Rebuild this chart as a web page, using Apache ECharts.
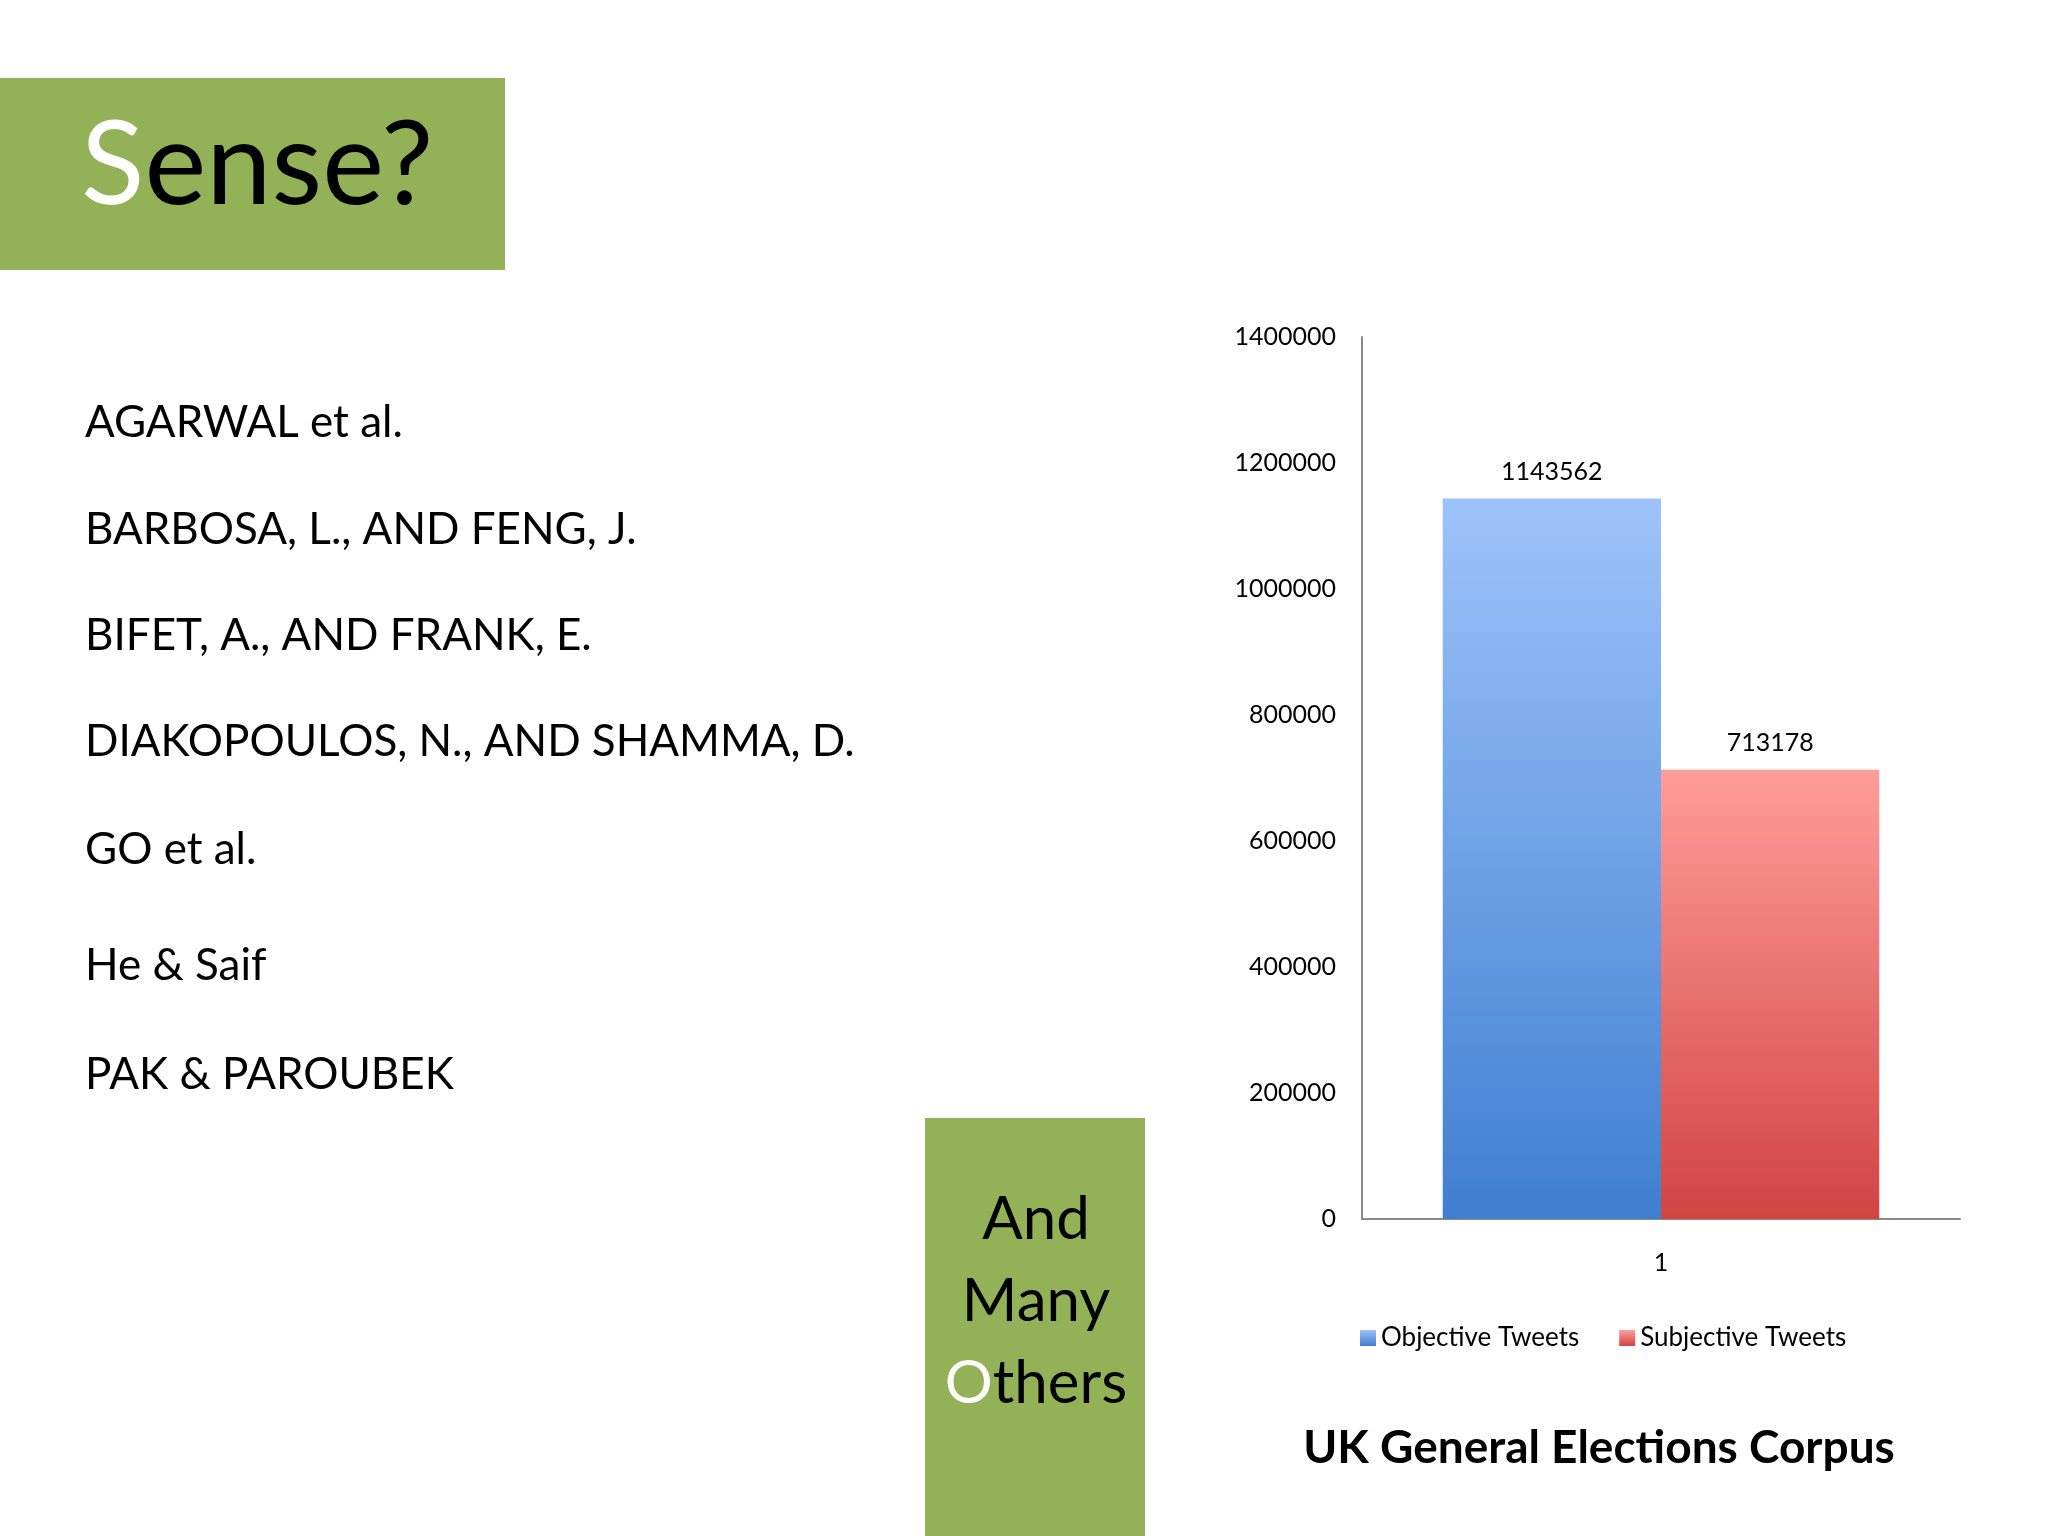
<!DOCTYPE html>
<html>
<head>
<meta charset="utf-8">
<script src="https://cdn.jsdelivr.net/npm/echarts@6/dist/echarts.min.js"></script>
<style>
  html, body { margin: 0; padding: 0; background: #ffffff; }
  #slide { width: 2048px; height: 1536px; }
</style>
</head>
<body>
<div id="slide"></div>
<script>
// chart data
var categories = ["1"];
var objectiveTweets = [1143562];
var subjectiveTweets = [713178];
var seriesNames = ["Objective Tweets", "Subjective Tweets"];
var yTicks = [0, 200000, 400000, 600000, 800000, 1000000, 1200000, 1400000];

// slide text
var references = [
  "AGARWAL et al.",
  "BARBOSA, L., AND FENG, J.",
  "BIFET, A., AND FRANK, E.",
  "DIAKOPOULOS, N., AND SHAMMA, D.",
  "GO et al.",
  "He & Saif",
  "PAK & PAROUBEK"
];
var refY = [423, 530, 636, 742, 850, 966, 1075];

var font = "Lato, 'Open Sans', sans-serif";
var green = "#93b157";

var chart = echarts.init(document.getElementById("slide"));

var graphics = [
  // title box
  { type: "rect", shape: { x: 0, y: 78, width: 505, height: 192 }, style: { fill: green } },
  {
    type: "text", x: 81, y: 166,
    style: {
      text: "{w|S}ense?", fontSize: 117, fontFamily: font, fill: "#000",
      verticalAlign: "middle",
      rich: { w: { fill: "#ffffff", fontSize: 117, fontFamily: font } }
    }
  },
  // "And Many Others" box
  { type: "rect", shape: { x: 925, y: 1118, width: 220, height: 420 }, style: { fill: green } },
  { type: "text", x: 1036, y: 1220, style: { text: "And", fontSize: 60, fontFamily: font, fill: "#000", align: "center", verticalAlign: "middle" } },
  { type: "text", x: 1036, y: 1302, style: { text: "Many", fontSize: 60, fontFamily: font, fill: "#000", align: "center", verticalAlign: "middle" } },
  {
    type: "text", x: 1036, y: 1384,
    style: {
      text: "{w|O}thers", fontSize: 60, fontFamily: font, fill: "#000", align: "center", verticalAlign: "middle",
      rich: { w: { fill: "#ffffff", fontSize: 60, fontFamily: font } }
    }
  }
];
references.forEach(function (t, i) {
  graphics.push({
    type: "text", x: 85, y: refY[i],
    style: { text: t, fontSize: 44, fontFamily: font, fill: "#000", verticalAlign: "middle" }
  });
});

function grad(top, bottom) {
  return new echarts.graphic.LinearGradient(0, 0, 0, 1, [
    { offset: 0, color: top },
    { offset: 1, color: bottom }
  ]);
}

var option = {
  backgroundColor: "#ffffff",
  animation: false,
  textStyle: { fontFamily: font },
  title: {
    text: "UK General Elections Corpus",
    left: 1594, top: 1420, textAlign: "center",
    textStyle: { fontSize: 46, fontWeight: "bold", color: "#000", fontFamily: font }
  },
  legend: {
    data: seriesNames,
    left: 1355, top: 1320,
    itemWidth: 16, itemHeight: 16, itemGap: 40,
    icon: "rect",
    textStyle: { fontSize: 26, color: "#000", fontFamily: font }
  },
  grid: { left: 1362, top: 337, right: 88, bottom: 317, containLabel: false },
  xAxis: {
    type: "category",
    data: categories,
    axisLine: { lineStyle: { color: "#8a8a8a", width: 2 } },
    axisTick: { show: false },
    axisLabel: { fontSize: 25, color: "#000", margin: 31, fontFamily: font }
  },
  yAxis: {
    type: "value",
    min: yTicks[0], max: yTicks[yTicks.length - 1], interval: yTicks[1] - yTicks[0],
    axisLine: { show: true, lineStyle: { color: "#8a8a8a", width: 2 } },
    axisTick: { show: false },
    splitLine: { show: false },
    axisLabel: {
      fontSize: 25, color: "#000", margin: 26, fontFamily: font,
      formatter: function (v) { return String(v); }
    }
  },
  series: [
    {
      name: seriesNames[0], type: "bar", data: objectiveTweets,
      barGap: "0%", barCategoryGap: "27%",
      itemStyle: { color: grad("#9dc3fb", "#3f7fd0") },
      label: { show: true, position: "top", distance: 14, fontSize: 25, color: "#000", fontFamily: font }
    },
    {
      name: seriesNames[1], type: "bar", data: subjectiveTweets,
      itemStyle: { color: grad("#ff9d99", "#d14442") },
      label: { show: true, position: "top", distance: 14, fontSize: 25, color: "#000", fontFamily: font }
    }
  ],
  graphic: graphics
};
chart.setOption(option);
</script>
</body>
</html>
